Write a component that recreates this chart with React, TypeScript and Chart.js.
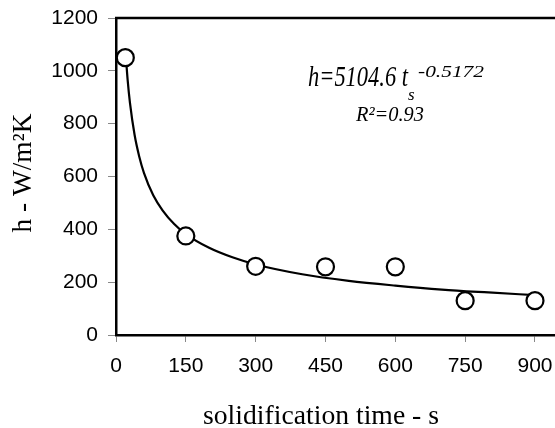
import React, { useEffect, useRef } from "react";
import { Chart, registerables } from "chart.js";

Chart.register(...registerables);

// Measured data (solidification time in s, heat transfer coefficient h in W/m²K)
const timeValues = [20, 150, 300, 450, 600, 750, 900];
const hValues = [1050, 375, 260, 258, 258, 130, 130];

// Power-law trend line samples
const fitTimes = [20, 25, 30, 40, 50, 60, 80, 100, 125, 150, 200, 250, 300, 400, 500, 600, 700, 800, 900];
const fitH = [1084, 966, 879, 757, 675, 614, 529, 472, 420, 382, 330, 294, 267, 230, 205, 187, 172, 161, 151];

const xTicks = [0, 150, 300, 450, 600, 750, 900];
const yTicks = [0, 200, 400, 600, 800, 1000, 1200];

const xTitle = "solidification time - s";
const yTitle = "h - W/m²K";
const eqMain = "h=5104.6 t";
const eqSub = "s";
const eqExp = "-0.5172";
const r2Label = "R²=0.93";

const SERIF = '"Liberation Serif", "Times New Roman", serif';
const SANS = '"Liberation Sans", Arial, sans-serif';

function drawText(
  ctx: CanvasRenderingContext2D,
  text: string,
  x: number,
  y: number,
  font: string,
  align: CanvasTextAlign,
  targetWidth?: number
) {
  ctx.save();
  ctx.font = font;
  const w = ctx.measureText(text).width;
  const sx = targetWidth ? targetWidth / w : 1;
  ctx.translate(x, y);
  ctx.scale(sx, 1);
  ctx.textAlign = align;
  ctx.textBaseline = "alphabetic";
  ctx.fillStyle = "#000";
  ctx.fillText(text, 0, 0);
  ctx.restore();
}

const annotPlugin = {
  id: "annot",
  afterDraw(chart: any) {
    const ctx: CanvasRenderingContext2D = chart.ctx;
    const ca = chart.chartArea;
    // top frame line
    ctx.save();
    ctx.strokeStyle = "#000";
    ctx.lineWidth = 2.5;
    ctx.beginPath();
    ctx.moveTo(ca.left - 1, ca.top);
    ctx.lineTo(ca.right, ca.top);
    ctx.stroke();
    ctx.restore();

    // equation
    drawText(ctx, eqMain, 308, 86, `italic 30px ${SERIF}`, "left", 100);
    drawText(ctx, eqSub, 408, 100, `italic 17px ${SERIF}`, "left");
    drawText(ctx, eqExp, 418, 77, `italic 16px ${SERIF}`, "left", 66);
    drawText(ctx, r2Label, 356, 121, `italic 21px ${SERIF}`, "left", 68);

    // axis titles
    drawText(ctx, xTitle, 321, 424, `27px ${SERIF}`, "center", 236);
    ctx.save();
    ctx.translate(31, 173);
    ctx.rotate(-Math.PI / 2);
    drawText(ctx, yTitle, 0, 0, `27px ${SERIF}`, "center", 119);
    ctx.restore();
  },
};

export default function App() {
  const ref = useRef<HTMLCanvasElement>(null);
  useEffect(() => {
    document.body.style.margin = "0";
    const canvas = ref.current;
    if (!canvas) return;
    const chart = new Chart(canvas, {
      type: "scatter",
      data: {
        datasets: [
          {
            type: "scatter",
            label: "measured",
            data: timeValues.map((t, i) => ({ x: t, y: hValues[i] })),
            pointRadius: 8.5,
            pointHoverRadius: 8.5,
            pointBorderWidth: 2.2,
            pointBorderColor: "#000",
            pointBackgroundColor: "#fff",
            order: 0,
          },
          {
            type: "line",
            label: "fit",
            data: fitTimes.map((t, i) => ({ x: t, y: fitH[i] })),
            borderColor: "#000",
            borderWidth: 2.2,
            pointRadius: 0,
            cubicInterpolationMode: "monotone",
            fill: false,
            order: 1,
          } as any,
        ],
      },
      options: {
        animation: false,
        responsive: true,
        maintainAspectRatio: false,
        layout: { autoPadding: false, padding: { top: 18, right: 0, left: 0, bottom: 0 } },
        plugins: { legend: { display: false }, tooltip: { enabled: false } },
        scales: {
          x: {
            type: "linear",
            min: 0,
            max: 943,
            afterBuildTicks: (scale: any) => {
              scale.ticks = xTicks.map((v) => ({ value: v }));
            },
            afterFit: (scale: any) => {
              scale.height = 93;
              scale.paddingRight = 0;
              scale.paddingLeft = 0;
            },
            grid: {
              drawOnChartArea: false,
              drawTicks: true,
              tickLength: 7,
              tickColor: "#888",
              tickWidth: 1,
            },
            border: { color: "#000", width: 2.5 },
            ticks: {
              padding: 12,
              color: "#000",
              font: { family: SANS, size: 21 },
              maxRotation: 0,
              callback: (v: any) => String(v),
            },
          },
          y: {
            min: 0,
            max: 1200,
            afterBuildTicks: (scale: any) => {
              scale.ticks = yTicks.map((v) => ({ value: v }));
            },
            afterFit: (scale: any) => {
              scale.width = 116;
              scale.paddingTop = 0;
              scale.paddingBottom = 0;
            },
            grid: {
              drawOnChartArea: false,
              drawTicks: true,
              tickLength: 8,
              tickColor: "#888",
              tickWidth: 1,
            },
            border: { color: "#000", width: 2.5 },
            ticks: {
              padding: 10,
              color: "#000",
              font: { family: SANS, size: 21 },
              callback: (v: any) => String(v),
            },
          },
        },
      },
      plugins: [annotPlugin],
    });
    return () => chart.destroy();
  }, []);
  return (
    <div style={{ width: 555, height: 428, position: "relative" }}>
      <canvas ref={ref} />
    </div>
  );
}
